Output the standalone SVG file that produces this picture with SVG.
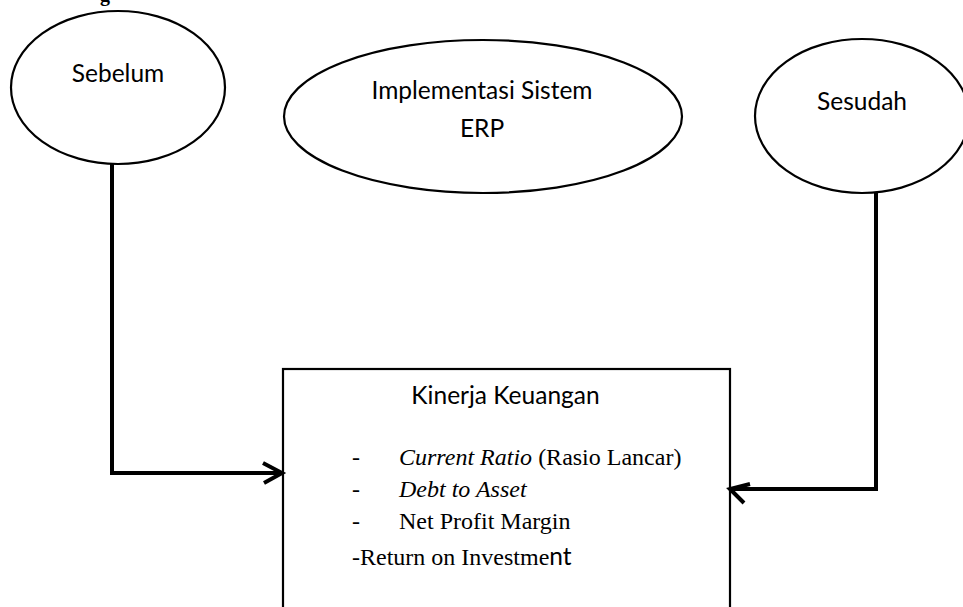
<svg xmlns="http://www.w3.org/2000/svg" width="963" height="607" viewBox="0 0 963 607">
<style>
.node{fill:#fff;stroke:#000;stroke-width:2.2}
.sans{font-family:Lato,"Open Sans",sans-serif;font-size:24.5px;fill:#000}
.serif{font-family:"Liberation Serif","Times New Roman",serif;font-size:24px;fill:#000}
.conn{fill:none;stroke:#000;stroke-width:4}
</style>
<rect width="963" height="607" fill="#fff"/>
<text x="100" y="1" style="font-family:'Liberation Serif',serif;font-weight:bold;font-size:20px">g</text>
<g id="sebelum">
<ellipse class="node" cx="118" cy="87.5" rx="107" ry="76.5"/>
<text class="sans" x="118" y="82" text-anchor="middle">Sebelum</text>
</g>
<g id="implementasi">
<ellipse class="node" cx="483" cy="116.5" rx="199" ry="76.5"/>
<text class="sans" x="482" y="99" text-anchor="middle">Implementasi Sistem</text>
<text class="sans" x="482" y="137" text-anchor="middle">ERP</text>
</g>
<g id="sesudah">
<ellipse class="node" cx="862" cy="116" rx="107" ry="77"/>
<text class="sans" x="862" y="110" text-anchor="middle">Sesudah</text>
</g>
<g id="kinerja">
<rect class="node" x="283" y="369" width="447" height="250"/>
<text class="sans" x="505.5" y="404" text-anchor="middle">Kinerja Keuangan</text>
<text class="serif" x="352" y="465">-</text>
<text class="serif" x="399" y="465"><tspan font-style="italic">Current Ratio</tspan> (Rasio Lancar)</text>
<text class="serif" x="352" y="497">-</text>
<text class="serif" x="399" y="497" font-style="italic">Debt to Asset</text>
<text class="serif" x="352" y="529">-</text>
<text class="serif" x="399" y="529">Net Profit Margin</text>
<text class="serif" x="352" y="565">-Return on Investme<tspan style="font-family:Lato,'Open Sans',sans-serif;font-size:24.5px">nt</tspan></text>
</g>
<g id="connectors">
<path class="conn" d="M112 164 V473 H281"/>
<path class="conn" d="M263 463 L282 473 L264 483"/>
<path class="conn" d="M876 192 V489 H731"/>
<path class="conn" d="M750 484 L730 489 L744 503"/>
</g>
</svg>
